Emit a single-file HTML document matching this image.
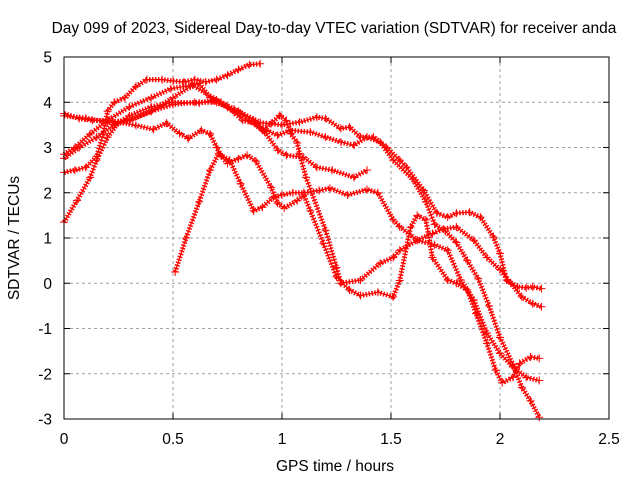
<!DOCTYPE html>
<html><head><meta charset="utf-8"><style>
body{margin:0;background:#fff;}
svg{display:block;font-family:"Liberation Sans",sans-serif;}
</style></head><body>
<svg id="chart" width="640" height="480">
<rect width="640" height="480" fill="#fff"/>
<text x="334" y="33" font-size="15.5" text-anchor="middle">Day 099 of 2023, Sidereal Day-to-day VTEC variation (SDTVAR) for receiver anda</text>
<text x="335" y="471" font-size="15.5" text-anchor="middle">GPS time / hours</text>
<text transform="translate(19,238) rotate(-90)" font-size="15.5" text-anchor="middle">SDTVAR / TECUs</text>
<g id="grid"></g>
<g id="series"></g>
<rect x="64" y="57" width="545" height="362" fill="none" stroke="#000" stroke-width="1"/>
<g id="ticks"></g>
</svg>
<script>
const xTicks=[0,0.5,1,1.5,2,2.5];
const xTickLabels=["0","0.5","1","1.5","2","2.5"];
const yTicks=[-3,-2,-1,0,1,2,3,4,5];
const yTickLabels=["-3","-2","-1","0","1","2","3","4","5"];
const s1T=[0,0.05,0.1,0.15,0.18,0.2,0.23,0.28,0.33,0.38,0.45,0.5,0.55,0.6,0.65,0.7,0.75,0.8,0.85,0.9];
const s1V=[2.45,2.5,2.56,2.8,3.3,3.8,4.0,4.1,4.35,4.5,4.5,4.47,4.45,4.5,4.45,4.5,4.6,4.72,4.83,4.85];
const s2T=[0,0.07,0.15,0.23,0.3,0.4,0.5,0.58,0.62,0.67,0.72,0.78,0.82,0.88,0.93,0.98,1.04,1.13,1.2,1.27,1.33,1.39,1.45,1.51,1.6,1.66,1.7,1.75,1.8,1.85,1.9,1.95,2.0,2.06,2.1,2.14,2.18];
const s2V=[2.76,3.0,3.23,3.5,3.6,3.8,4.1,4.35,4.42,4.1,4.0,3.78,3.6,3.53,3.38,3.27,3.38,3.34,3.23,3.12,3.05,3.23,3.12,2.72,2.3,1.8,1.3,1.15,0.9,0.5,0.1,-0.5,-1.2,-1.8,-2.3,-2.6,-2.96];
const s3T=[0,0.06,0.12,0.15,0.2,0.25,0.3,0.4,0.5,0.62,0.68,0.75,0.81,0.87,0.91,0.95,0.99,1.02,1.04,1.07,1.08,1.11,1.2,1.25,1.27,1.36,1.45,1.51,1.54,1.62,1.69,1.74,1.8,1.88,1.94,2.0,2.05,2.1,2.15,2.19];
const s3V=[1.35,1.83,2.34,2.72,3.23,3.55,3.7,3.9,4.0,3.98,4.04,3.89,3.76,3.6,3.38,3.53,3.71,3.6,3.31,3.1,2.87,2.34,1.17,0.35,0,0.07,0.44,0.57,0.73,0.95,1.1,1.2,1.24,0.95,0.57,0.3,0,-0.3,-0.45,-0.52];
const s4T=[0,0.07,0.13,0.21,0.33,0.41,0.47,0.53,0.57,0.63,0.67,0.7,0.72,0.76,0.81,0.87,0.91,0.96,1.0,1.05,1.1,1.17,1.22,1.3,1.39,1.44,1.51,1.54,1.62,1.7,1.76,1.82,1.88,1.94,2.0,2.06,2.12,2.18];
const s4V=[3.75,3.64,3.6,3.6,3.49,3.4,3.54,3.31,3.2,3.38,3.3,3.0,2.83,2.72,2.2,1.6,1.68,1.9,1.95,2.0,2.0,2.05,2.1,1.95,2.07,2.0,1.4,1.25,0.95,0.85,0.73,0.07,-0.37,-1.1,-1.55,-1.85,-2.08,-2.15];
const s5T=[0,0.1,0.2,0.3,0.4,0.5,0.6,0.7,0.78,0.85,0.92,0.98,1.02,1.1,1.16,1.23,1.33,1.39];
const s5V=[3.7,3.65,3.55,3.6,3.8,3.95,4.0,4.0,3.85,3.6,3.35,2.94,2.83,2.78,2.56,2.5,2.34,2.5];
const s6T=[0,0.05,0.12,0.2,0.3,0.4,0.49,0.59,0.7,0.8,0.9,1.0,1.08,1.16,1.2,1.27,1.31,1.36,1.42,1.48,1.54,1.57,1.65,1.71,1.76,1.8,1.86,1.91,1.97,2.0,2.03,2.08,2.12,2.15,2.19];
const s6V=[2.85,3.0,3.3,3.6,3.9,4.1,4.3,4.38,4.05,3.8,3.55,3.5,3.56,3.67,3.64,3.42,3.45,3.23,3.23,3.0,2.72,2.57,2.05,1.55,1.46,1.55,1.57,1.46,1.02,0.66,0.07,-0.08,-0.1,-0.08,-0.12];
const s7T=[0.51,0.56,0.62,0.67,0.71,0.75,0.8,0.84,0.88,0.95,0.98,1.01,1.07,1.1,1.13,1.19,1.25,1.31,1.36,1.44,1.51,1.54,1.59,1.62,1.66,1.69,1.76,1.8,1.85,1.89,1.94,1.98,2.01,2.06,2.09,2.14,2.18];
const s7V=[0.25,1.0,1.8,2.5,2.87,2.65,2.75,2.83,2.7,2.12,1.77,1.66,1.83,1.95,1.6,0.88,0.14,-0.15,-0.27,-0.2,-0.3,0.06,1.24,1.5,1.4,0.57,0.07,0,-0.15,-0.67,-1.33,-1.92,-2.2,-2.08,-1.77,-1.63,-1.66];
const seriesT=[s1T,s2T,s3T,s4T,s5T,s6T,s7T];
const seriesV=[s1V,s2V,s3V,s4V,s5V,s6V,s7V];

const NS="http://www.w3.org/2000/svg";
const X0=64,X1=609,Y0=419,Y1=57;
function xs(t){return X0+(t-0)/(2.5-0)*(X1-X0);}
function ys(v){return Y0-(v-(-3))/(5-(-3))*(Y0-Y1);}
const grid=document.getElementById('grid'),ticks=document.getElementById('ticks'),ser=document.getElementById('series');
function mk(tag,attrs,parent){const e=document.createElementNS(NS,tag);for(const k in attrs)e.setAttribute(k,attrs[k]);parent.appendChild(e);return e;}
xTicks.forEach((t,i)=>{
  const x=xs(t);
  if(i>0&&i<xTicks.length-1){const g=mk('line',{x1:x,x2:x,y1:Y1,y2:Y0,stroke:'#a0a0a0','stroke-dasharray':'3,3'},grid);
  
  }
  const a=mk('line',{x1:x,x2:x,y1:Y0,y2:Y0-6,stroke:'#000'},ticks);
  
  
  const b=mk('line',{x1:x,x2:x,y1:Y1,y2:Y1+6,stroke:'#000'},ticks);
  
  
  const l=mk('text',{x:x,y:444,'font-size':'15.5','text-anchor':'middle'},ticks);l.textContent=xTickLabels[i];
  
  
});
yTicks.forEach((v,i)=>{
  const y=ys(v);
  if(i>0&&i<yTicks.length-1){const g=mk('line',{x1:X0,x2:X1,y1:y,y2:y,stroke:'#a0a0a0','stroke-dasharray':'3,3'},grid);
  
  }
  const a=mk('line',{x1:X0,x2:X0+6,y1:y,y2:y,stroke:'#000'},ticks);
  
  
  const b=mk('line',{x1:X1,x2:X1-6,y1:y,y2:y,stroke:'#000'},ticks);
  
  
  const l=mk('text',{x:52,y:y+5.5,'font-size':'15.5','text-anchor':'end'},ticks);l.textContent=yTickLabels[i];
  
  
});
function drawSeries(T,V,color,idx){
  const pts=[];
  for(let i=0;i<T.length;i++)pts.push(xs(T[i])+','+ys(V[i]));
  const p=mk('polyline',{points:pts.join(' '),fill:'none',stroke:color,'stroke-width':'5','stroke-linejoin':'round','stroke-dasharray':'1.5,1.5'},ser);
  
  
  const p2=mk('polyline',{points:pts.join(' '),fill:'none',stroke:color,'stroke-width':'1.2','stroke-linejoin':'round'},ser);
  
  
  for(let i=0;i<T.length;i++){
    const x=xs(T[i]),y=ys(V[i]);
    const m=mk('path',{d:`M${x-4},${y}H${x+4}M${x},${y-4}V${y+4}`,stroke:color,'stroke-width':'1'},ser);
    
    
  }
}
for(let k=0;k<seriesT.length;k++)drawSeries(seriesT[k],seriesV[k],'#ff0000',k+1);
</script>
</body></html>
